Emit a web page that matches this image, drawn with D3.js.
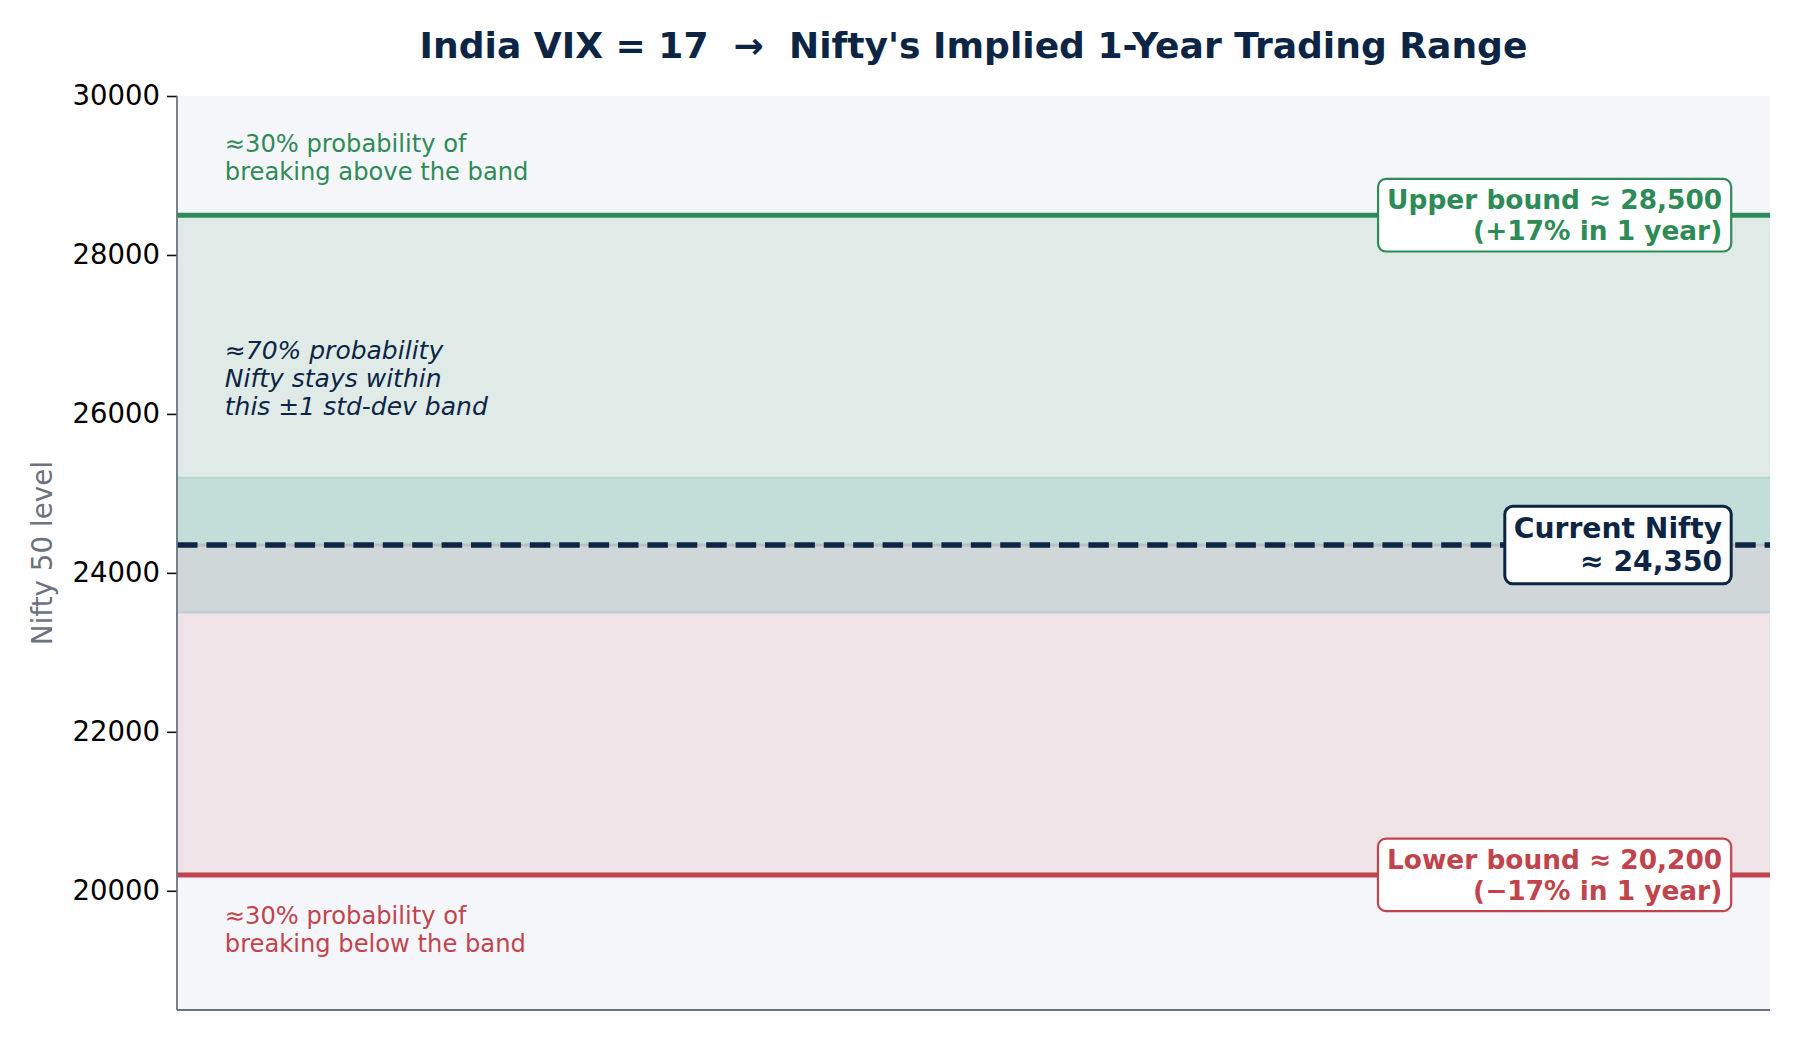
<!DOCTYPE html>
<html>
<head>
<meta charset="utf-8">
<script src="https://cdn.jsdelivr.net/npm/d3@7"></script>
<style>
  body { margin: 0; background: #fff; }
  svg text { font-family: "DejaVu Sans", sans-serif; white-space: pre; }
</style>
</head>
<body>
<svg id="canvas" width="1800" height="1040"></svg>
<script>
// values
let yDomain = [18500, 30000]
let yTicks = [20000, 22000, 24000, 26000, 28000, 30000]
let currentLevel = [24350]
let boundValues = [28500, 20200]          // upper, lower
let boundColors = ['#2e8b57', '#c1444d']
let nearBand = [23500, 25200]
let boundLabels = [
  ['Upper bound \u2248 28,500', '(+17% in 1 year)'],
  ['Lower bound \u2248 20,200', '(\u221217% in 1 year)']
]
let currentLabel = ['Current Nifty', '\u2248 24,350']
let noteAbove = ['\u224830% probability of', 'breaking above the band']
let noteInside = ['\u224870% probability', 'Nifty stays within', 'this \u00b11 std-dev band']
let noteBelow = ['\u224830% probability of', 'breaking below the band']
let noteAnchors = [29393, 26795, 19684]   // level of each note's first line

let navy = '#0d2545'
let canvas = d3.select('#canvas')

let margin = {top: 96, right: 30, bottom: 30, left: 177},
    width = 1800 - margin.left - margin.right,
    height = 1040 - margin.top - margin.bottom

let y = d3.scaleLinear().domain(yDomain).range([height, 0])
let x = d3.scaleLinear().domain([0, 1]).range([0, width])

let g = canvas.append('g').attr('transform', `translate(${margin.left},${margin.top})`)

// plot background
g.append('rect')
  .attr('x', 0).attr('y', 0)
  .attr('width', width).attr('height', height)
  .attr('fill', '#f5f6fa')

// upper / lower tinted bands between current and the bounds
g.selectAll('.band')
  .data(boundValues)
  .enter()
  .append('rect')
  .attr('class', 'band')
  .attr('x', 0)
  .attr('width', width)
  .attr('y', (d) => y(Math.max(d, currentLevel[0])))
  .attr('height', (d) => Math.abs(y(d) - y(currentLevel[0])))
  .attr('fill', (d, i) => boundColors[i])
  .attr('fill-opacity', 0.105)

// near band around the current level
g.append('rect')
  .attr('x', 0)
  .attr('width', width)
  .attr('y', y(nearBand[1]))
  .attr('height', y(nearBand[0]) - y(nearBand[1]))
  .attr('fill', '#2a9d8f')
  .attr('fill-opacity', 0.16)
g.selectAll('.nearEdge')
  .data(nearBand)
  .enter()
  .append('line')
  .attr('x1', 0).attr('x2', width)
  .attr('y1', (d) => y(d)).attr('y2', (d) => y(d))
  .attr('stroke', '#2a9d8f')
  .attr('stroke-opacity', 0.18)
  .attr('stroke-width', 2)

// faint edge under the dashed line
g.append('line')
  .attr('x1', 0).attr('x2', width)
  .attr('y1', y(currentLevel[0])).attr('y2', y(currentLevel[0]))
  .attr('stroke', '#b9bfc2')
  .attr('stroke-width', 3)

// bound lines
g.selectAll('.bound')
  .data(boundValues)
  .enter()
  .append('line')
  .attr('class', 'bound')
  .attr('x1', 0).attr('x2', width)
  .attr('y1', (d) => y(d)).attr('y2', (d) => y(d))
  .attr('stroke', (d, i) => boundColors[i])
  .attr('stroke-width', 5)

// current level dashed line
g.append('line')
  .attr('x1', 0).attr('x2', width)
  .attr('y1', y(currentLevel[0])).attr('y2', y(currentLevel[0]))
  .attr('stroke', navy)
  .attr('stroke-width', 5.5)
  .attr('stroke-dasharray', '20.5 8.9')

// axis
let yAxis = d3.axisLeft(y).tickValues(yTicks).tickSize(10).tickPadding(7).tickFormat(d3.format('d'))
let axisG = g.append('g').call(yAxis)
axisG.select('.domain').remove()
axisG.selectAll('.tick line').attr('stroke', '#111').attr('stroke-width', 1.6)
axisG.selectAll('.tick text').attr('fill', '#000').style('font-size', '27.5px')

// spines
g.append('line').attr('x1', 0).attr('x2', 0).attr('y1', 0).attr('y2', height)
  .attr('stroke', '#6b7280').attr('stroke-width', 1.8)
g.append('line').attr('x1', 0).attr('x2', width).attr('y1', height).attr('y2', height)
  .attr('stroke', '#6b7280').attr('stroke-width', 1.8)

// y label
canvas.append('text')
  .attr('transform', `translate(42,${margin.top + height / 2}) rotate(-90)`)
  .attr('text-anchor', 'middle')
  .attr('dominant-baseline', 'central')
  .attr('fill', '#6b7280')
  .style('font-size', '27.8px')
  .text('Nifty 50 level')

// title
canvas.append('text')
  .attr('x', margin.left + width / 2)
  .attr('y', 46)
  .attr('text-anchor', 'middle')
  .attr('dominant-baseline', 'central')
  .attr('fill', navy)
  .style('font-size', '36.1px')
  .style('font-weight', 'bold')
  .text('India VIX = 17  \u2192  Nifty\'s Implied 1-Year Trading Range')

// multi-line note helper
let drawNote = (lines, level, color, italic) => {
  let t = g.append('text')
    .attr('fill', color)
    .style('font-size', italic ? '25px' : '24.2px')
    .style('font-style', italic ? 'italic' : 'normal')
  lines.forEach((line, i) => {
    t.append('tspan')
      .attr('x', x(0.03))
      .attr('y', y(level) + i * 27.7)
      .attr('dominant-baseline', 'central')
      .text(line)
  })
}
drawNote(noteAbove, noteAnchors[0], boundColors[0], false)
drawNote(noteInside, noteAnchors[1], navy, true)
drawNote(noteBelow, noteAnchors[2], boundColors[1], false)

// boxed labels, centred on their lines
let drawBox = (lines, value, color, strokeW, fs) => {
  let box = g.append('g')
  let t = box.append('text')
    .attr('text-anchor', 'end')
    .attr('fill', color)
    .style('font-size', fs + 'px')
    .style('font-weight', 'bold')
  let lh = fs * 1.18
  let y0 = y(value) - lh / 2
  lines.forEach((line, i) => {
    t.append('tspan')
      .attr('x', x(0.97))
      .attr('y', y0 + i * lh)
      .attr('dominant-baseline', 'central')
      .text(line)
  })
  let bb = t.node().getBBox()
  let pad = 9
  let h = fs * 2.75
  box.insert('rect', 'text')
    .attr('x', bb.x - pad)
    .attr('y', y(value) - h / 2)
    .attr('width', bb.width + pad * 2)
    .attr('height', h)
    .attr('rx', 8)
    .attr('fill', '#fff')
    .attr('stroke', color)
    .attr('stroke-width', strokeW)
}
drawBox(boundLabels[0], boundValues[0], boundColors[0], 2.2, 26.4)
drawBox(boundLabels[1], boundValues[1], boundColors[1], 2.2, 26.4)
drawBox(currentLabel, currentLevel[0], navy, 3, 28.2)
</script>
</body>
</html>
